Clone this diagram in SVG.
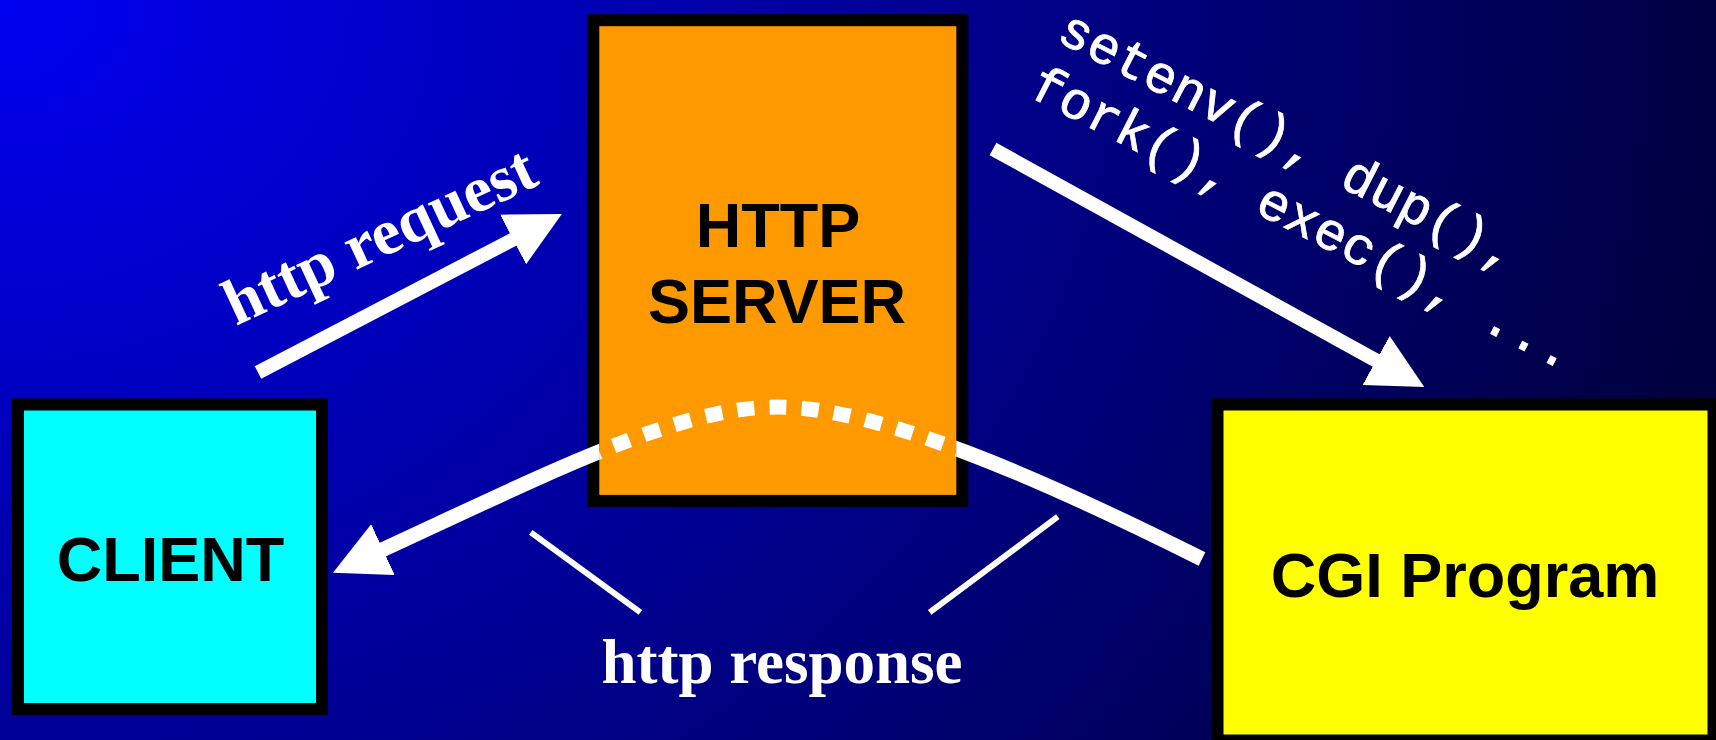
<svg xmlns="http://www.w3.org/2000/svg" width="1716" height="740" viewBox="0 0 1716 740">
<defs>
<style>
.box{stroke:#000;stroke-width:12}
.label{font-family:"Liberation Sans",Arial,sans-serif;font-weight:bold;font-size:63px;fill:#000;text-anchor:middle}
.serif{font-family:"Liberation Serif","Times New Roman",serif;font-weight:bold;fill:#fff}
.mono{font-family:"Liberation Mono","Courier New",monospace;font-weight:normal;fill:#fff;font-size:53px;stroke:#fff;stroke-width:0.8}
.arrow{stroke:#fff;stroke-width:14;fill:none;marker-end:url(#head)}
.resp{stroke:#fff;stroke-width:15;fill:none}
.dash{stroke-dasharray:17 15.3;stroke-dashoffset:8.5}
.callout{stroke:#fff;stroke-width:6;fill:none}
</style>
<radialGradient id="bgGrad" gradientUnits="userSpaceOnUse" cx="0" cy="0" r="1900" gradientTransform="scale(1 0.83)">
<stop offset="0" stop-color="#0000F2"/>
<stop offset="1" stop-color="#000030"/>
</radialGradient>
<marker id="head" markerUnits="userSpaceOnUse" viewBox="0 0 55 56" markerWidth="55" markerHeight="56" refX="1" refY="28" orient="auto">
<path d="M0,0 L55,28 L0,56 Z" fill="#fff"/>
</marker>
<clipPath id="outsideInner"><path clip-rule="evenodd" d="M0 0H1716V740H0Z M599.3 26.2H956.2V494.9H599.3Z"/></clipPath>
<clipPath id="insideInner"><rect x="599.3" y="26.2" width="356.9" height="468.7"/></clipPath>
</defs>
<rect id="background" x="0" y="0" width="1716" height="740" fill="url(#bgGrad)"/>
<g id="client">
<rect class="box" x="18" y="404.5" width="304" height="304.5" fill="#00FFFF"/>
<text class="label" x="170.5" y="581">CLIENT</text>
</g>
<g id="server">
<rect class="box" x="593.3" y="20.2" width="369" height="480.7" fill="#FF9900"/>
<text class="label" x="778" y="247">HTTP</text>
<text class="label" x="777" y="323">SERVER</text>
</g>
<g id="cgi">
<rect class="box" x="1217.5" y="404.5" width="496" height="336" fill="#FFFF00"/>
<text class="label" x="1465" y="597">CGI Program</text>
</g>
<g id="connectors">
<line id="request" class="arrow" x1="258" y1="372.5" x2="514" y2="239"/>
<line id="spawn" class="arrow" x1="993" y1="149" x2="1377" y2="361"/>
<path id="response" class="resp" clip-path="url(#outsideInner)" marker-end="url(#head)" d="M1202,559 C1040,478 878,407 778,407 C678,407 555,470 382,550"/>
<g id="response-inside" clip-path="url(#insideInner)">
<path class="resp dash" d="M778,407 C678,407 555,470 382,550"/>
<path class="resp dash" d="M778,407 C878,407 1040,478 1202,559"/>
</g>
<line class="callout" x1="530.8" y1="532.3" x2="640.4" y2="612.3"/>
<line class="callout" x1="1057.8" y1="516.7" x2="929.7" y2="612.3"/>
</g>
<g id="labels">
<text class="serif" font-size="65" transform="translate(236,326) rotate(-25)">http request</text>
<text class="serif" font-size="63" x="782" y="683" text-anchor="middle">http response</text>
<g transform="translate(1055,40) rotate(27.2)">
<text class="mono" x="0" y="0">setenv(), dup(),</text>
<text class="mono" x="0" y="62">fork(), exec(), ...</text>
</g>
</g>
</svg>
